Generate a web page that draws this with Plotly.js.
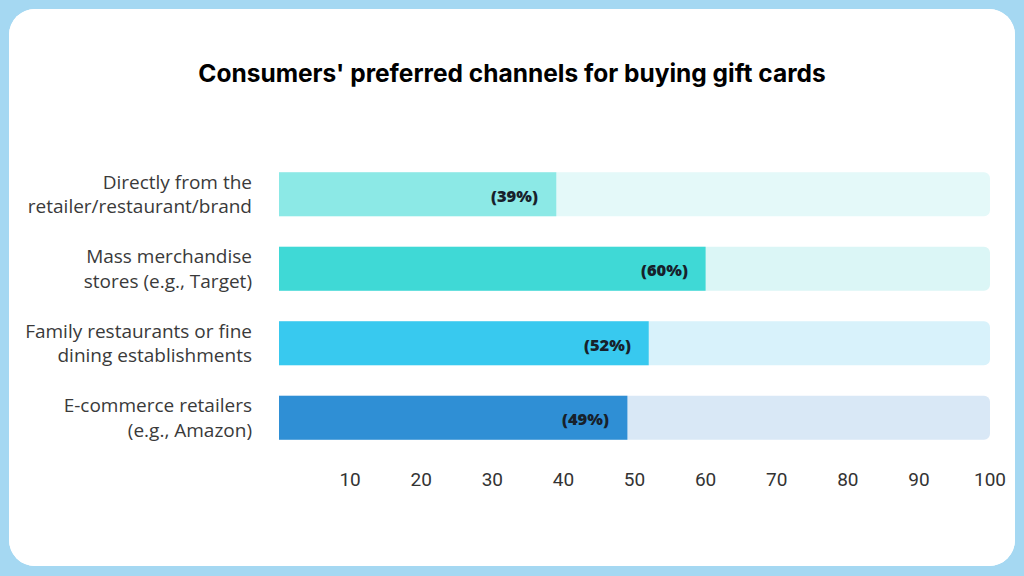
<!DOCTYPE html>
<html>
<head>
<meta charset="utf-8">
<script src="https://cdn.plot.ly/plotly-3.0.1.min.js"></script>
<style>
  html, body { margin: 0; padding: 0; width: 1024px; height: 576px; background: #a5d8f2; overflow: hidden; }
  #card { position: absolute; left: 9px; top: 9px; width: 1006px; height: 557px; background: #ffffff; border-radius: 26px; overflow: hidden; }
  #chart { width: 1006px; height: 557px; }
</style>
</head>
<body>
<div id="card"><div id="chart"></div></div>
<script>
const categories = [
  "Directly from the<br>retailer/restaurant/brand",
  "Mass merchandise<br>stores (e.g., Target)",
  "Family restaurants or fine<br>dining establishments",
  "E-commerce retailers<br>(e.g., Amazon)"
];
const values = [39, 60, 52, 49];
const trackMax = [100, 100, 100, 100];
const barColors = ["#8ce9e6", "#3fd9d6", "#38c9ef", "#2f8fd5"];
const trackColors = ["#e4f9f9", "#dbf6f6", "#d8f2fb", "#d9e8f6"];
const tickValues = [10, 20, 30, 40, 50, 60, 70, 80, 90, 100];

const track = {
  type: "bar", orientation: "h",
  x: trackMax, y: categories,
  marker: { color: trackColors, cornerradius: 6 },
  hoverinfo: "skip", showlegend: false
};
const bars = {
  type: "bar", orientation: "h",
  x: values, y: categories,
  marker: { color: barColors, cornerradius: 6 },
  hoverinfo: "skip", showlegend: false
};

const annotations = values.map((v, i) => ({
  x: v, y: categories[i], xref: "x", yref: "y",
  text: "(" + v + "%)", showarrow: false,
  xanchor: "right", xshift: -16, yshift: -1,
  font: { family: "Open Sans, sans-serif", size: 16.5, color: "#17212b", weight: 800 }
}));

const layout = {
  width: 1006, height: 557,
  paper_bgcolor: "#ffffff", plot_bgcolor: "#ffffff",
  margin: { l: 270, r: 25, t: 147.5, b: 110.5 },
  barmode: "overlay", bargap: 0.41,
  title: {
    text: "<b>Consumers' preferred channels for buying gift cards</b>",
    x: 0.5, xanchor: "center", y: 0.885, yanchor: "middle",
    font: { family: "Inter, sans-serif", size: 24.5, color: "#000000", weight: 900 }
  },
  xaxis: {
    range: [0, 100], tickvals: tickValues,
    showgrid: false, zeroline: false, showline: false,
    ticks: "", ticklabelstandoff: 11,
    tickfont: { family: "Roboto, Liberation Sans, sans-serif", size: 19, color: "#333333" },
    fixedrange: true
  },
  yaxis: {
    autorange: "reversed", showgrid: false, zeroline: false, showline: false,
    ticks: "", ticklabelstandoff: 26,
    tickfont: { family: "Open Sans, sans-serif", size: 19, color: "#3a3a3a" },
    fixedrange: true
  },
  annotations: annotations
};

Plotly.newPlot("chart", [track, bars], layout, { displayModeBar: false, staticPlot: true });
</script>
</body>
</html>
